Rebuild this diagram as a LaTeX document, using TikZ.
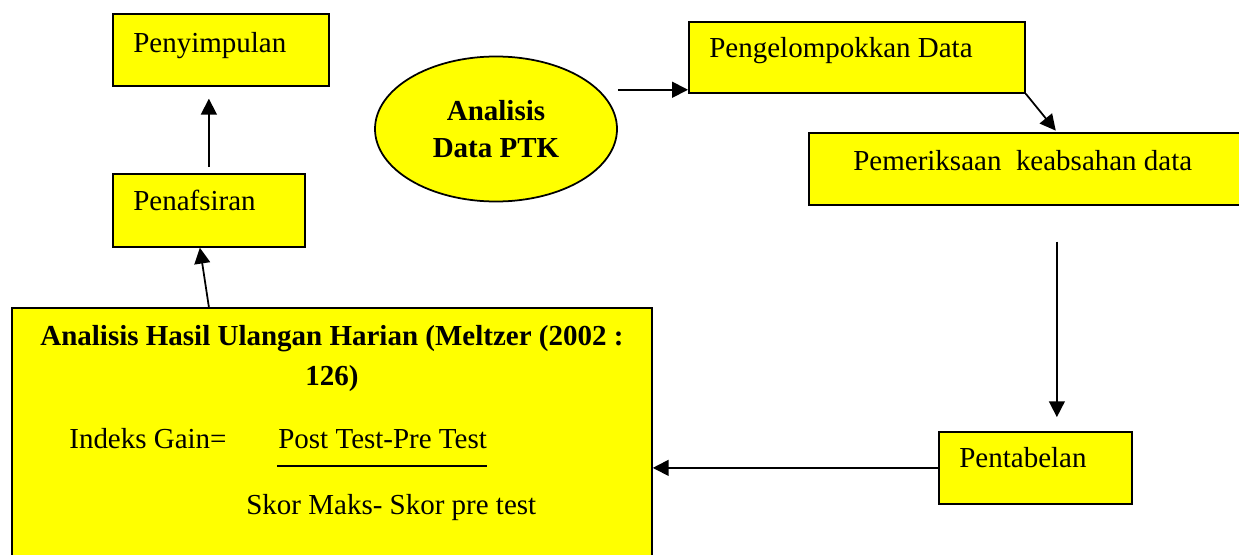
\documentclass[tikz,border=0pt]{standalone}
\usepackage{fontspec}
\setmainfont{Liberation Serif}
\usetikzlibrary{arrows.meta}
\usetikzlibrary{shapes.geometric}

\definecolor{boxyellow}{RGB}{255,255,0}
\newcommand{\pxu}{0.02cm}

\begin{document}
\begin{tikzpicture}[x=0.02cm, y=-0.02cm,
    box/.style={draw=black, fill=boxyellow, line width=1pt, anchor=north west, inner sep=0pt},
    txt/.style={anchor=base west, inner sep=0pt, font=\fontsize{16.5}{21}\selectfont},
    arr/.style={-{Triangle[length=9pt,width=9pt]}, line width=1pt}]

        % Page
        \useasboundingbox (0,0) rectangle (1239,554);
        \clip (0,0) rectangle (1239,554);

        % Boxes
        \node[box, minimum width=216*\pxu, minimum height=72*\pxu] (simp) at (112,13) {};
        \node[box, minimum width=192*\pxu, minimum height=73*\pxu] (pen) at (112,173) {};
        \node[box, minimum width=336*\pxu, minimum height=71*\pxu] (peng) at (688,21) {};
        \node[box, minimum width=496*\pxu, minimum height=72*\pxu] (pem) at (808,132) {}; % runs off the page
        \node[box, minimum width=193*\pxu, minimum height=72*\pxu] (tab) at (938,431) {};
        \node[box, minimum width=640*\pxu, minimum height=270*\pxu] (hasil) at (11,307) {}; % runs off the page

        % Ellipse
        \node[draw=black, fill=boxyellow, ellipse, line width=1pt, inner sep=0pt,
              minimum width=242*\pxu, minimum height=145*\pxu, align=center,
              font=\bfseries\fontsize{16.5}{21}\selectfont] (ana) at (496,129) {Analisis\\Data PTK};

        % Texts in the boxes
        \node[txt] (simpT) at ([shift={(21,39)}]simp.north west) {Penyimpulan};
        \node[txt] (penT) at ([shift={(21,37)}]pen.north west) {Penafsiran};
        \node[txt] (pengT) at ([shift={(21,37)}]peng.north west) {Pengelompokkan Data};
        \node[txt] (pemT) at ([shift={(45,38)}]pem.north west) {Pemeriksaan\ \ keabsahan data};
        \node[txt] (tabT) at ([shift={(21,36)}]tab.north west) {Pentabelan};

        % Big box: title and gain formula
        \node[txt, anchor=north, align=center, font=\bfseries\fontsize{16.5}{22.7}\selectfont]
            (title) at ([shift={(0,18)}]hasil.north) {Analisis Hasil Ulangan Harian (Meltzer (2002 :\\126)};
        \node[txt] (gain) at ([shift={(58,141)}]hasil.north west) {Indeks Gain=};
        \node[txt] (num) at ([shift={(267,141)}]hasil.north west) {Post Test-Pre Test};
        \node[txt] (den) at ([shift={(235,207)}]hasil.north west) {Skor Maks- Skor pre test};
        \draw[line width=1pt] ([shift={(-1,18)}]num.base west) -- ([shift={(0,18)}]num.base east); % fraction bar

        % Arrows
        \coordinate (pin) at ([shift={(0,-4)}]peng.south west);
        \draw[arr] (ana.east |- pin) -- (pin);
        \draw[arr, shorten >=1pt] (peng.south east) -- (pem.north);
        \draw[arr, shorten <=20.4pt, shorten >=7.9pt] (pem.south) -- (pem.south |- tab.north);
        \draw[arr] (tab.west) -- (tab.west -| hasil.east);
        \draw[arr] (pen.south |- hasil.north) -- ([shift={(-9,0)}]pen.south);
        \draw[arr, shorten <=3.4pt, shorten >=6.8pt] (pen.north) -- (pen.north |- simp.south);
\end{tikzpicture}
\end{document}
